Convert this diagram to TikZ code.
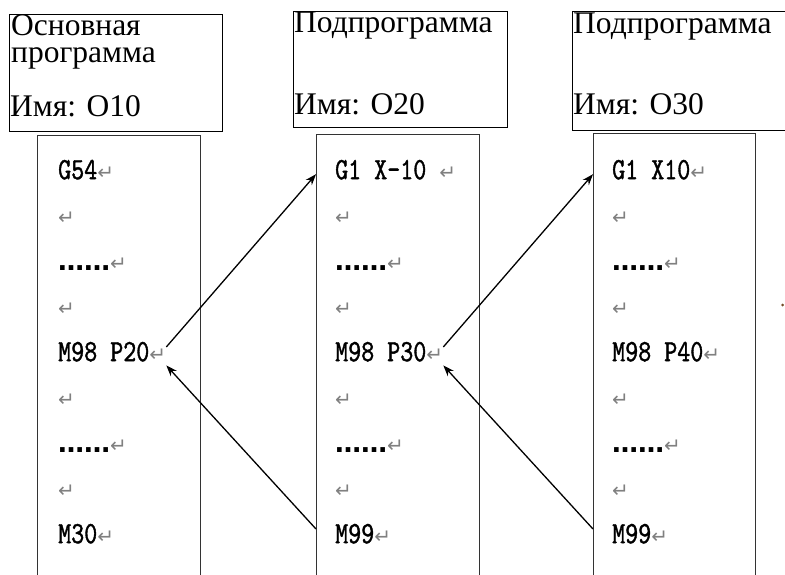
\documentclass[tikz,border=0pt]{standalone}
\usepackage{fontspec}
\setmainfont{Liberation Serif}
\newfontfamily\codefont[FakeStretch=0.8, FakeBold=1.2]{lmmono10-regular.otf}
\newfontfamily\symfont{DejaVu Sans}
\usetikzlibrary{arrows.meta}

\newcommand{\ret}{{\symfont\fontsize{20}{20}\selectfont\color{gray}↵}}
\newcommand{\skipdots}{{\symfont\bfseries\fontsize{26}{26}\selectfont ……}}

\begin{document}
\begin{tikzpicture}[
  x=1pt, y=-1pt,
  every matrix/.style={ampersand replacement=\&, row sep=27.5pt, inner sep=0pt, anchor=north west},
  header/.style={draw, thick, anchor=north west, inner sep=0pt},
  title/.style={anchor=base west, inner sep=0pt, align=left, font=\fontsize{31.5}{27}\selectfont},
  listing/.style={draw=black!80, line width=1.2pt, anchor=north west, inner sep=0pt,
    minimum width=163pt, minimum height=470pt},
  code/.style={anchor=base west, inner sep=0pt, text height=14pt, text depth=4pt,
    font=\codefont\fontsize{31}{31}\selectfont},
  arrow/.style={->, >={Stealth[length=11pt, width=8pt]}, line width=1.3pt}]

  \useasboundingbox (0,0) rectangle (785,574);

  % Headers with the program names
  \node[header, minimum width=213pt, minimum height=117pt] (h10) at (9,14) {};
  \node[header, minimum width=214pt, minimum height=116pt] (h20) at (293,11) {};
  \node[header, minimum width=213pt, minimum height=119pt] (h30) at (572,11) {};

  \node[title] (t10) at ([shift={(2,48)}]h10.north west) {Основная\\программа};
  \node[title] (t20) at ([shift={(1,21.5)}]h20.north west) {Подпрограмма};
  \node[title] (t30) at ([shift={(1,22.5)}]h30.north west) {Подпрограмма};
  \node[title] (n10) at ([shift={(1,-15.5)}]h10.south west) {Имя: O10};
  \node[title] (n20) at ([shift={(1,-13.5)}]h20.south west) {Имя: O20};
  \node[title] (n30) at ([shift={(1,-16.5)}]h30.south west) {Имя: O30};

  % Listing frames, open at the bottom of the page
  \node[listing] (l10) at (37,135) {};
  \node[listing] (l20) at (316,134) {};
  \node[listing, minimum width=162pt] (l30) at (593,133) {};

  % Program lines
  \matrix at (58,165) {
    \node[code] (o10-1) {G54\ret}; \\
    \node[code] (o10-2) {\ret}; \\
    \node[code] (o10-3) {\skipdots\ret}; \\
    \node[code] (o10-4) {\ret}; \\
    \node[code] (o10-5) {M98 P20\ret}; \\
    \node[code] (o10-6) {\ret}; \\
    \node[code] (o10-7) {\skipdots\ret}; \\
    \node[code] (o10-8) {\ret}; \\
    \node[code] (o10-9) {M30\ret}; \\
  };
  \matrix at (335,165) {
    \node[code] (o20-1) {G1 X-10 \ret}; \\
    \node[code] (o20-2) {\ret}; \\
    \node[code] (o20-3) {\skipdots\ret}; \\
    \node[code] (o20-4) {\ret}; \\
    \node[code] (o20-5) {M98 P30\ret}; \\
    \node[code] (o20-6) {\ret}; \\
    \node[code] (o20-7) {\skipdots\ret}; \\
    \node[code] (o20-8) {\ret}; \\
    \node[code] (o20-9) {M99\ret}; \\
  };
  \matrix at (612,165) {
    \node[code] (o30-1) {G1 X10\ret}; \\
    \node[code] (o30-2) {\ret}; \\
    \node[code] (o30-3) {\skipdots\ret}; \\
    \node[code] (o30-4) {\ret}; \\
    \node[code] (o30-5) {M98 P40\ret}; \\
    \node[code] (o30-6) {\ret}; \\
    \node[code] (o30-7) {\skipdots\ret}; \\
    \node[code] (o30-8) {\ret}; \\
    \node[code] (o30-9) {M99\ret}; \\
  };

  % Calls and returns
  \draw[arrow] (o10-5.north east) -- (o20-1 -| l20.west);
  \draw[arrow] (o20-9.north -| l20.west) -- (o10-5.south east);
  \draw[arrow] (o20-5.north east) -- (o30-1 -| l30.west);
  \draw[arrow] (o30-9.north -| l30.west) -- (o20-5.south east);

  \fill[brown!60!black] (782.5,305) circle (1.5pt);

\end{tikzpicture}
\end{document}
